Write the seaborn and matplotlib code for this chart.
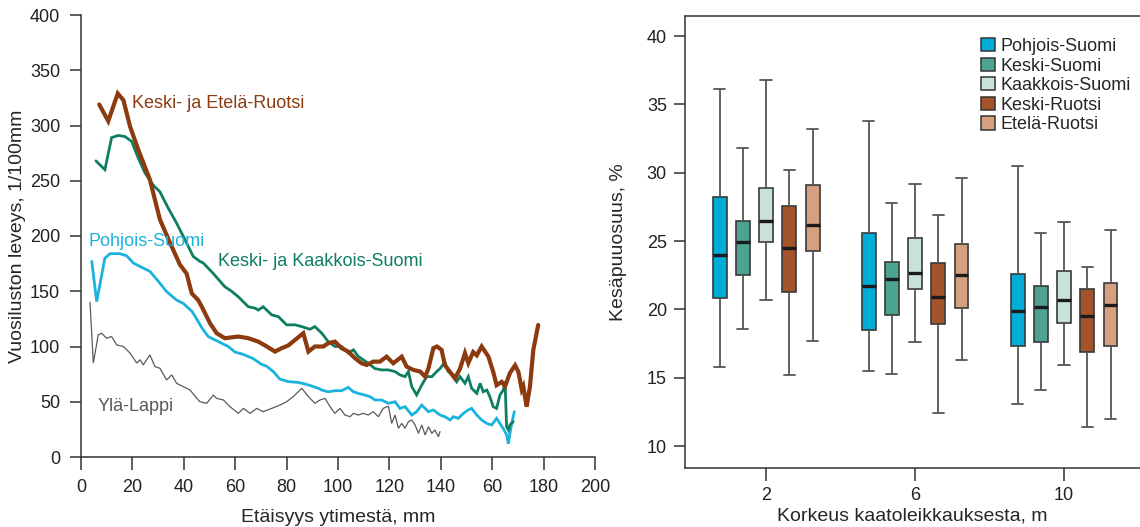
import numpy as np
import pandas as pd
import matplotlib
matplotlib.use("Agg")
import matplotlib.pyplot as plt
import seaborn as sns

# ---------------- Ring width profiles (left panel) ----------------
ruotsi_x = [7.1, 10.6, 14.3, 16.5, 19.1, 22.3, 26.8, 30.7, 34.6, 38.5, 41.1, 43.1, 45.6,
            47.0, 50.2, 52.8, 56.0, 61.2, 65.1, 69.0, 72.3, 75.5, 78.1, 80.7, 83.3, 86.5,
            88.5, 91.0, 94.3, 96.2, 98.8, 101.4, 104.0, 106.6, 109.2, 111.2, 113.7, 116.3,
            118.9, 121.5, 124.8, 126.7, 129.3, 132.0, 133.9, 135.2, 137.1, 138.5, 140.3,
            141.6, 143.6, 145.5, 147.5, 149.4, 150.7, 152.6, 154.0, 155.9, 158.5, 160.4,
            161.7, 163.7, 165.0, 166.9, 168.9, 170.2, 171.5, 172.1, 173.4, 174.7, 176.0, 177.9]
ruotsi_y = [319, 304, 329, 323, 299, 278, 251, 215, 194, 174, 166, 148, 142,
            136, 121, 112, 107.5, 109, 107.5, 104.4, 100, 95.4, 98.5, 101, 106, 112,
            95.4, 100, 100, 103, 104.4, 98.5, 95.4, 89.4, 84.8, 83.3, 86.3, 86.3,
            90.8, 84.8, 90.8, 81.8, 78.8, 77.3, 72.7, 80.3, 98.5, 100, 97,
            83, 77, 71, 80, 94, 85, 95, 92, 100, 91, 77,
            65, 68, 64, 76, 83, 77, 61, 64, 45.5, 64, 97, 119.5]

kaakkois_x = [5.8, 9.3, 11.9, 14.5, 17.1, 19.7, 22.3, 24.9, 28.1, 30.7, 34.0, 37.2, 40.5,
              43.7, 46.3, 47.6, 51.5, 56.0, 58.6, 61.2, 65.1, 67.7, 69.0, 70.9, 74.2, 76.8,
              80.0, 83.3, 85.9, 89.1, 91.0, 93.7, 96.2, 98.8, 101.4, 104.0, 106.0, 107.9,
              109.8, 111.8, 114.4, 117.0, 119.6, 122.2, 124.1, 126.1, 127.4, 128.7, 130.6,
              132.6, 134.5, 136.5, 138.4, 139.7, 141.6, 142.9, 144.9, 146.2, 147.5, 149.4,
              150.7, 152.0, 154.0, 155.3, 156.5, 157.9, 159.1, 160.4, 161.7, 163.0, 164.3,
              165.0, 165.6, 166.3, 166.9, 168.2]
kaakkois_y = [268, 260, 289, 291, 290, 285.6, 270.5, 257, 246, 240, 225, 211.6, 196.5,
              181.4, 177, 175.5, 166, 154, 150, 145, 136, 134.7, 133, 136, 128.6, 127,
              119.6, 119.6, 118, 115.6, 118, 112, 104.4, 100, 100, 94, 97, 91,
              88, 84.8, 80, 78.8, 78.8, 77.3, 74.3, 72.7, 77.3, 63.7, 56.2,
              65.2, 72.7, 72.7, 77.3, 80, 86, 77.3, 74.3, 68.2, 72.7, 66.7,
              72.7, 62.2, 57.6, 66.7, 59, 60.6, 54.6, 45.5, 44, 56, 60.6,
              68.2, 27.4, 24.5, 29, 32]

pohjois_x = [4.2, 6.1, 9.3, 11.3, 15.2, 17.8, 20.4, 23.0, 26.8, 30.1, 33.3, 37.2, 39.8,
             43.1, 45.0, 47.0, 49.5, 52.1, 54.7, 57.3, 59.9, 63.0, 67.0, 70.2, 72.3, 74.8,
             77.4, 80.7, 84.6, 88.5, 92.3, 93.7, 96.2, 98.8, 101.4, 104.0, 106.0, 107.9,
             110.5, 112.5, 114.4, 117.0, 119.6, 122.2, 124.1, 126.1, 128.7, 130.6, 132.6,
             135.2, 137.1, 139.7, 141.6, 143.6, 144.9, 146.8, 148.8, 150.7, 152.0, 154.0,
             155.9, 157.9, 159.8, 161.7, 163.0, 164.3, 165.6, 166.3, 166.9, 167.6, 168.6]
pohjois_y = [177, 140.7, 180, 184, 184, 182, 175.5, 172.4, 168, 159, 149.7, 142, 139,
             132, 125, 117, 109, 106, 103, 100, 95, 93, 89, 84, 82, 77.3,
             70.5, 68.2, 67.5, 65.2, 62.2, 60.6, 59, 60, 60, 63, 59, 57.6,
             56, 54.6, 51.6, 51.6, 48.6, 50, 44, 45.5, 38, 41, 47,
             41, 42.6, 38, 36.5, 33.5, 36.5, 35, 39.5, 42.6, 44, 38,
             33.5, 30.4, 29, 35, 30.4, 25.8, 20, 12, 21.4, 30.4, 41]

lappi_x = [3.5, 4.8, 6.7, 8.0, 10.0, 11.9, 13.9, 16.5, 19.1, 21.7, 23.0, 24.2, 26.8, 28.8,
           30.7, 33.3, 35.3, 37.2, 39.8, 42.4, 45.0, 46.3, 48.9, 51.5, 52.8, 55.4, 58.0,
           61.2, 63.2, 65.8, 68.4, 70.9, 74.2, 77.4, 80.0, 82.6, 85.9, 88.5, 91.0, 93.0,
           95.0, 96.9, 98.8, 100.8, 102.7, 104.7, 106.0, 107.9, 109.8, 111.8, 113.7, 115.7,
           117.6, 119.6, 120.9, 122.2, 123.5, 124.8, 126.1, 127.4, 128.7, 130.0, 131.3,
           132.6, 133.9, 135.2, 136.5, 137.7, 139.1, 139.7]
lappi_y = [140, 85, 110.5, 112, 107.5, 109, 101.4, 100, 94, 85, 88, 83.3, 92.4, 81.8,
           80.3, 69.7, 74.3, 66.7, 63.7, 60.7, 53.2, 50, 48.6, 56, 53, 51.6, 45.5,
           39.5, 44, 39.5, 44, 41, 44, 47, 50, 54.6, 62.2, 54.6, 48.6, 51.6,
           53, 45.5, 39.5, 44, 38, 36.5, 39.5, 38, 39.5, 38, 41, 36.5,
           44, 46, 30.4, 38, 26, 30.4, 26, 32, 33.5, 29, 21.4,
           29, 20, 27.4, 21.4, 24.5, 18.4, 23]

dist_ticks = [0, 20, 40, 60, 80, 100, 120, 140, 160, 180, 200]
dist_tick_labels = ["0", "20", "40", "60", "80", "100", "120", "140", "60", "180", "200"]
width_ticks = [0, 50, 100, 150, 200, 250, 300, 350, 400]

# ---------------- Latewood share (right panel) ----------------
heights = ["2", "6", "10"]
regions = ["Pohjois-Suomi", "Keski-Suomi", "Kaakkois-Suomi", "Keski-Ruotsi", "Etelä-Ruotsi"]
# [min, Q1, median, Q3, max] for each region, in region order
summary_2m = [[15.8, 20.8, 24.0, 28.2, 36.1],
              [18.6, 22.5, 24.9, 26.5, 31.8],
              [20.7, 24.9, 26.5, 28.9, 36.8],
              [15.2, 21.3, 24.5, 27.6, 30.2],
              [17.7, 24.3, 26.2, 29.1, 33.2]]
summary_6m = [[15.5, 18.5, 21.7, 25.6, 33.8],
              [15.3, 19.6, 22.2, 23.5, 27.8],
              [17.6, 21.5, 22.7, 25.2, 29.2],
              [12.4, 18.9, 20.9, 23.4, 26.9],
              [16.3, 20.1, 22.5, 24.8, 29.6]]
summary_10m = [[13.1, 17.3, 19.9, 22.6, 30.5],
               [14.1, 17.6, 20.2, 21.7, 25.6],
               [15.9, 19.0, 20.7, 22.8, 26.4],
               [11.4, 16.9, 19.5, 21.5, 23.1],
               [12.0, 17.3, 20.3, 21.9, 25.8]]
share_ticks = [10, 15, 20, 25, 30, 35, 40]

line_colors = {"ruotsi": "#8C3A0E", "kaakkois": "#0E7E62", "pohjois": "#1AB3DD", "lappi": "#5A5A5A"}
box_colors = ["#00ACD8", "#4BA390", "#C8E2DA", "#A5532A", "#D5A07F"]

sns.set_theme(style="ticks")
plt.rcParams["font.family"] = ["Liberation Sans", "DejaVu Sans"]
plt.rcParams["axes.edgecolor"] = "#333333"
plt.rcParams["xtick.color"] = "#333333"
plt.rcParams["ytick.color"] = "#333333"
plt.rcParams["xtick.labelcolor"] = "#222222"
plt.rcParams["ytick.labelcolor"] = "#222222"

fig = plt.figure(figsize=(11.4, 5.27), dpi=100)

# ---------- left: ring width against distance from pith ----------
ax1 = fig.add_axes([81 / 1140, 1 - 457 / 527, (595 - 81) / 1140, (457 - 15) / 527])
profiles = [
    (lappi_x, lappi_y, line_colors["lappi"], 0.9),
    (pohjois_x, pohjois_y, line_colors["pohjois"], 2.0),
    (kaakkois_x, kaakkois_y, line_colors["kaakkois"], 2.0),
    (ruotsi_x, ruotsi_y, line_colors["ruotsi"], 3.0),
]
for xs, ys, col, lw in profiles:
    sns.lineplot(x=xs, y=ys, ax=ax1, color=col, linewidth=lw, estimator=None,
                 sort=False, solid_joinstyle="miter")

ax1.text(19.8, 320, "Keski- ja Etelä-Ruotsi", color=line_colors["ruotsi"], fontsize=13, va="center")
ax1.text(53.3, 177, "Keski- ja Kaakkois-Suomi", color=line_colors["kaakkois"], fontsize=13, va="center")
ax1.text(3.1, 195, "Pohjois-Suomi", color=line_colors["pohjois"], fontsize=13, va="center")
ax1.text(6.6, 46, "Ylä-Lappi", color=line_colors["lappi"], fontsize=13, va="center")

ax1.set_xlim(0, 200)
ax1.set_ylim(0, 400)
ax1.set_xticks(dist_ticks)
ax1.set_xticklabels(dist_tick_labels)
ax1.set_yticks(width_ticks)
ax1.tick_params(axis="x", length=9, width=1.1, pad=7, labelsize=13)
ax1.tick_params(axis="y", length=8, width=1.1, pad=7, labelsize=13)
ax1.set_xlabel("Etäisyys ytimestä, mm", fontsize=14, labelpad=9)
ax1.set_ylabel("Vuosiluston leveys, 1/100mm", fontsize=14, labelpad=3)
for side in ("top", "right"):
    ax1.spines[side].set_visible(False)
for side in ("left", "bottom"):
    ax1.spines[side].set_linewidth(1.1)

# ---------- right: latewood share by sampling height ----------
rows = []
for h, summ in zip(heights, [summary_2m, summary_6m, summary_10m]):
    for reg, vals in zip(regions, summ):
        for v in vals:
            rows.append({"height": h, "region": reg, "share": v})
df = pd.DataFrame(rows)

ax2 = fig.add_axes([685 / 1140, 1 - 468 / 527, (1140 - 685) / 1140, (468 - 15.5) / 527])
sns.boxplot(data=df, x="height", y="share", hue="region", order=heights, hue_order=regions,
            palette=box_colors, saturation=1, whis=(0, 100), width=0.78, gap=0.4, fliersize=0,
            linecolor="#3a3a3a", linewidth=1.2, ax=ax2,
            medianprops={"color": "#1a1a1a", "linewidth": 2.4},
            whiskerprops={"color": "#555555", "linewidth": 1.3},
            capprops={"color": "#555555", "linewidth": 1.3},
            capwidths=0.075)

ax2.set_xlim(-0.544, 2.51)
ax2.set_ylim(8.4, 41.5)
ax2.set_yticks(share_ticks)
ax2.tick_params(axis="x", length=9, width=1.1, pad=5, labelsize=13)
ax2.tick_params(axis="y", length=8, width=1.1, pad=5, labelsize=13)
ax2.set_xlabel("Korkeus kaatoleikkauksesta, m", fontsize=14, labelpad=2)
ax2.set_ylabel("Kesäpuuosuus, %", fontsize=14, labelpad=14)
ax2.spines["right"].set_visible(False)
for side in ("left", "bottom", "top"):
    ax2.spines[side].set_linewidth(1.1)

leg = ax2.legend(loc="upper left", bbox_to_anchor=(0.635, 0.966), frameon=False,
                 fontsize=13, handlelength=0.75, handleheight=0.75, handletextpad=0.3,
                 labelspacing=0.14, borderaxespad=0, title=None)
for patch in leg.get_patches():
    patch.set_edgecolor("#333333")
    patch.set_linewidth(1.1)

fig.savefig("out.png", dpi=100)
